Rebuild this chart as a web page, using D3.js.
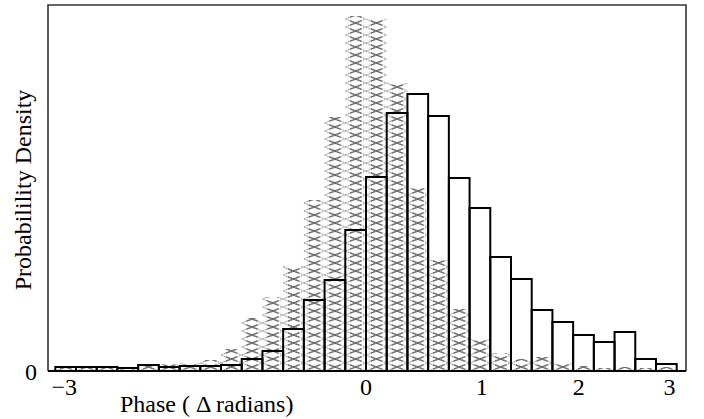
<!DOCTYPE html>
<html lang="en">
	<head>
		<meta charset="utf-8">
		<title>Phase histogram</title>
		<script type="text/javascript" src="https://d3js.org/d3.v7.min.js"></script>
		<style>
			body { margin: 0; background: #fff; }
			text { font-family: "Liberation Serif", "Times New Roman", serif; fill: #000; }
		</style>
	</head>
	<body>
		<script type="text/javascript">
			// 30 bins from -pi to pi
			var binCount = 30;
			// heights of the outlined histogram (arbitrary density units)
			var outlineValues = [4, 4, 4, 3, 6, 4, 5, 5, 6, 12, 20, 42, 71, 91, 141,
				194, 258, 277, 255, 193, 163, 114, 92, 61, 49, 36, 29, 39, 12, 7];
			// heights of the hatched histogram
			var hatchValues = [4, 4, 4, 3, 6, 7, 8, 11, 22, 53, 74, 105, 171, 254, 355,
				352, 288, 183, 111, 62, 32, 18, 12, 14, 8, 5, 3, 4, 3, 4];
			// x tick labels and where they sit (radians)
			var tickLabels = ["\u22123", "0", "1", "2", "3"];
			var tickAt = [-3.05, 0, 1.17, 2.15, 3.07];

			var w = 704;
			var h = 419;
			var frame = {left: 48, right: 686, top: 5, bottom: 371};

			var xScale = d3.scaleLinear()
				.domain([-Math.PI, Math.PI])
				.range([55.3, 676.7]);

			var yScale = d3.scaleLinear()
				.domain([0, 366])
				.range([frame.bottom, frame.top]);

			var binW = 2 * Math.PI / binCount;
			function binStart(i) { return -Math.PI + i * binW; }

			var svg = d3.select("body")
				.append("svg")
				.attr("width", w)
				.attr("height", h);

			// crosshatch pattern, one diamond per bin
			var pw = xScale(binW) - xScale(0);
			var ph = 8;
			var pat = svg.append("defs")
				.append("pattern")
				.attr("id", "hatch")
				.attr("patternUnits", "userSpaceOnUse")
				.attr("x", xScale(-Math.PI))
				.attr("y", frame.bottom)
				.attr("width", pw)
				.attr("height", ph);
			// grey thicker bits around the crossing
			var cx = pw / 2, cy = ph / 2, dx = pw * 0.28, dy = ph * 0.28;
			pat.append("path")
				.attr("d", "M" + (cx - dx) + "," + (cy - dy) + "L" + (cx + dx) + "," + (cy + dy) +
					"M" + (cx - dx) + "," + (cy + dy) + "L" + (cx + dx) + "," + (cy - dy))
				.attr("stroke", "#8c8c8c")
				.attr("stroke-width", 1.8)
				.attr("fill", "none");
			pat.append("path")
				.attr("d", "M0,0L" + pw + "," + ph + "M0," + ph + "L" + pw + ",0")
				.attr("stroke", "#333")
				.attr("stroke-width", 0.6)
				.attr("stroke-dasharray", "1.6,1.1")
				.attr("fill", "none");

			// hatched bars
			svg.selectAll("rect.hatch")
				.data(hatchValues)
				.enter()
				.append("rect")
				.attr("class", "hatch")
				.attr("x", function(d, i) { return xScale(binStart(i)); })
				.attr("y", function(d) { return yScale(d); })
				.attr("width", pw)
				.attr("height", function(d) { return yScale(0) - yScale(d); })
				.attr("fill", "url(#hatch)");

			// outlined bars
			svg.selectAll("rect.outline")
				.data(outlineValues)
				.enter()
				.append("rect")
				.attr("class", "outline")
				.attr("x", function(d, i) { return xScale(binStart(i)); })
				.attr("y", function(d) { return yScale(d); })
				.attr("width", pw)
				.attr("height", function(d) { return yScale(0) - yScale(d); })
				.attr("fill", "none")
				.attr("stroke", "#000")
				.attr("stroke-width", 2);

			// frame
			svg.append("path")
				.attr("d", "M" + frame.left + "," + frame.bottom + "V" + frame.top +
					"H" + frame.right + "V" + frame.bottom)
				.attr("fill", "none")
				.attr("stroke", "#333")
				.attr("stroke-width", 1.6);
			svg.append("line")
				.attr("x1", frame.left)
				.attr("x2", frame.right)
				.attr("y1", frame.bottom)
				.attr("y2", frame.bottom)
				.attr("stroke", "#000")
				.attr("stroke-width", 2.2);

			// tick labels
			svg.selectAll("text.tick")
				.data(tickLabels)
				.enter()
				.append("text")
				.attr("class", "tick")
				.attr("x", function(d, i) { return xScale(tickAt[i]); })
				.attr("y", 395)
				.attr("text-anchor", "middle")
				.attr("font-size", "24px")
				.text(function(d) { return d; });

			svg.append("text")
				.attr("x", 37)
				.attr("y", yScale(0) + 9)
				.attr("text-anchor", "end")
				.attr("font-size", "24px")
				.text("0");

			// axis titles
			svg.append("text")
				.attr("x", 120)
				.attr("y", 412)
				.attr("font-size", "24px")
				.text("Phase ( \u0394 radians)");

			svg.append("text")
				.attr("transform", "translate(31,190) rotate(-90)")
				.attr("text-anchor", "middle")
				.attr("font-size", "24px")
				.text("Probabilility Density");
		</script>
	</body>
</html>
